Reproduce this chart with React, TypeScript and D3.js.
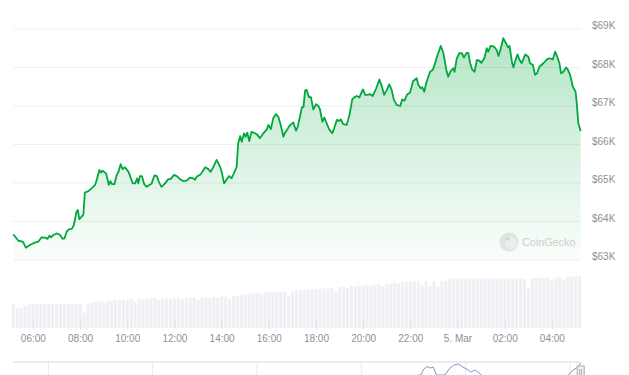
import React from "react";
import * as d3 from "d3";

// 24h BTC price (minutes after 4 Mar 05:09 UTC)
const startTime = Date.UTC(2024, 2, 4, 5, 9);

const priceMinutes = [
  0, 13, 24, 32, 42, 55, 64, 72, 81, 87,
  92, 96, 102, 112, 119, 125, 130, 136, 142, 149,
  154, 161, 164, 168, 174, 178, 182, 191, 199, 208,
  212, 219, 223, 227, 236, 243, 247, 251, 257, 263,
  267, 273, 278, 284, 293, 299, 304, 310, 315, 318,
  322, 327, 333, 339, 346, 352, 359, 365, 371, 377,
  386, 394, 400, 409, 416, 424, 432, 441, 449, 458,
  462, 466, 477, 488, 496, 502, 509, 517, 526, 530,
  536, 543, 549, 555, 561, 568, 572, 577, 581, 587,
  591, 595, 600, 606, 615, 621, 627, 636, 645, 649,
  655, 661, 668, 674, 680, 687, 691, 695, 702, 707,
  712, 719, 723, 729, 734, 738, 742, 746, 752, 757,
  763, 770, 776, 780, 786, 791, 797, 803, 811, 816,
  823, 828, 833, 839, 848, 855, 862, 869, 874, 880,
  889, 895, 901, 907, 914, 923, 931, 937, 943, 950,
  956, 962, 968, 975, 984, 989, 995, 1001, 1009, 1017,
  1026, 1030, 1036, 1040, 1045, 1051, 1060, 1067, 1073, 1078,
  1087, 1094, 1101, 1106, 1113, 1119, 1122, 1128, 1134, 1141,
  1146, 1153, 1157, 1162, 1167, 1173, 1179, 1185, 1190, 1198,
  1204, 1208, 1214, 1223, 1230, 1234, 1240, 1246, 1253, 1258,
  1262, 1268, 1272, 1276, 1282, 1287, 1293, 1302, 1310, 1314,
  1321, 1327, 1332, 1338, 1348, 1357, 1363, 1372, 1378, 1382,
  1389, 1393, 1399, 1406, 1410, 1416, 1423, 1430, 1433, 1437,
  1443,
];

const prices = [
  63670, 63500, 63480, 63320, 63390, 63450, 63480, 63590, 63580, 63550,
  63630, 63590, 63650, 63690, 63650, 63550, 63560, 63740, 63800, 63810,
  63910, 64260, 64300, 64060, 64130, 64170, 64750, 64790, 64860, 64950,
  65080, 65340, 65270, 65320, 65250, 64950, 65050, 64970, 64970, 65210,
  65280, 65490, 65360, 65410, 65290, 65120, 64990, 64990, 65120, 64990,
  65180, 65180, 64970, 64900, 64950, 64990, 65200, 65180, 65010, 64900,
  64990, 65100, 65100, 65210, 65180, 65100, 65050, 65060, 65140, 65120,
  65080, 65160, 65230, 65410, 65360, 65290, 65420, 65600, 65420, 65290,
  64990, 65100, 65180, 65120, 65250, 65420, 66030, 66220, 66070, 66290,
  66200, 66310, 66090, 66330, 66290, 66250, 66160, 66290, 66400, 66510,
  66400, 66680, 66790, 66720, 66510, 66200, 66310, 66360, 66480, 66530,
  66570, 66360, 66450, 66720, 66970, 66970, 67400, 67420, 67230, 67230,
  66910, 67050, 67000, 66910, 66590, 66700, 66550, 66400, 66290, 66420,
  66640, 66610, 66650, 66530, 66510, 66770, 67170, 67240, 67260, 67220,
  67430, 67290, 67290, 67310, 67260, 67460, 67690, 67520, 67290, 67420,
  67560, 67430, 67160, 67030, 67000, 67170, 67140, 67290, 67350, 67650,
  67720, 67550, 67460, 67490, 67370, 67630, 67890, 67940, 68120, 68300,
  68560, 68370, 67950, 67760, 67920, 67980, 67890, 68240, 68370, 68370,
  68260, 68380, 68380, 68110, 67950, 67890, 68200, 68180, 68120, 68240,
  68500, 68410, 68560, 68540, 68440, 68300, 68500, 68760, 68630, 68520,
  68560, 68150, 68000, 68150, 68340, 68210, 68110, 68340, 68280, 68110,
  68070, 67810, 67850, 68020, 68110, 68210, 68240, 68210, 68410, 68320,
  68110, 67850, 67890, 68000, 67950, 67810, 67500, 67370, 67070, 66550,
  66350,
];

// total volume ($B), one bar every 10 minutes
const volumeStep = 10;
const volumes = [
  37.8, 32, 31.5, 36, 37.5, 38, 37, 38, 37.5, 38,
  38.3, 37.8, 38, 38.2, 37.6, 38, 37.5, 38.3, 24, 36,
  40, 41.5, 42, 40, 43, 42.5, 44, 43.5, 45, 44,
  45.5, 41, 46, 45, 46.5, 46, 47, 44, 46.5, 47.5,
  46, 47, 48, 46, 47.5, 48, 47, 44.5, 48, 48.5,
  47.5, 49, 48, 50, 49, 46, 50, 51, 52, 54,
  53, 55, 55.5, 54, 56, 56.5, 57, 56.5, 57, 57.5,
  51, 57, 59, 60, 59.5, 61, 60.5, 62, 61.5, 63,
  62, 64, 58, 64.5, 65, 63, 66, 65.5, 67, 66.5,
  68, 67, 68.5, 69, 66, 70, 69.5, 71, 70, 72,
  73, 72.5, 74, 73.5, 67, 74, 66, 73, 65, 74,
  75, 78, 77.5, 78, 78.5, 77, 78, 78.5, 78, 77.5,
  78, 78.5, 78, 77.5, 78, 78, 77.5, 78, 78.5, 78,
  77, 62, 78, 79, 79, 78.5, 79.5, 74, 79, 80,
  76, 81, 80.5, 81.5, 82,
];

const priceRange = [63000, 69000];
const volumeRange = [0, 85];

// navigator (longer history, only its tops show)
const navDayRange = [-0.336, 5.103];
const navDays = [
  -0.34, 0.5, 1.2, 2.0, 2.8, 3.3, 3.57, 3.6, 3.63, 3.66,
  3.69, 3.72, 3.8, 3.85, 3.89, 3.93, 3.97, 4.01, 4.05, 4.09,
  4.13, 4.17, 4.4, 4.7, 4.97, 5.02, 5.06, 5.09, 5.103,
];
const navPrices = [
  60500, 61200, 60800, 61500, 62000, 62800, 63850, 66230, 67220, 66620,
  67020, 63850, 63850, 66620, 67810, 68210, 67020, 66230, 65040, 65830,
  64640, 63060, 62500, 62800, 63060, 65440, 66620, 67810, 68600,
];

const W = 629;
const H = 375;
const left = 13.3;
const right = 580.7;
const font = "'Liberation Sans', Arial, Helvetica, sans-serif";
const labelColor = "#8b9099";

export default function App() {
  const times = priceMinutes.map((m) => new Date(startTime + m * 60000));
  const data = times.map((t, i) => ({ t, v: prices[i] }));

  const x = d3.scaleUtc().domain(d3.extent(times) as [Date, Date]).range([left, right]);
  const y = d3.scaleLinear().domain(priceRange).range([260, 29]);
  const yVol = d3.scaleLinear().domain(volumeRange).range([328, 274]);
  const xNav = d3.scaleLinear().domain(navDayRange).range([left, right]);
  const yNav = d3.scaleLinear().domain([50000, 69000]).range([410, 362]);

  const line = d3.line<{ t: Date; v: number }>().x((d) => x(d.t)).y((d) => y(d.v));
  const area = d3
    .area<{ t: Date; v: number }>()
    .x((d) => x(d.t))
    .y0(y(priceRange[0]))
    .y1((d) => y(d.v));

  const navLine = d3.line<number>().x((d) => xNav(d)).y((d, i) => yNav(navPrices[i]));

  const xTicks = d3.utcHour.every(2)!.range(x.domain()[0], x.domain()[1]);
  const fmtTick = (d: Date) =>
    d.getUTCHours() === 0 ? d3.utcFormat("%-d. %b")(d) : d3.utcFormat("%H:%M")(d);
  const yTicks = y.ticks(6);

  const barW = 3.1;
  const navTicks = d3.range(0, Math.floor(navDayRange[1]) + 1);
  const handleX = xNav(navDayRange[1]);

  return (
    <svg width={W} height={H} style={{ position: "absolute", left: 0, top: 0, background: "#fff" }}>
      <defs>
        <linearGradient id="fillGrad" gradientUnits="userSpaceOnUse" x1="0" y1={y(priceRange[1])} x2="0" y2={y(priceRange[0])}>
          <stop offset="0" stopColor="#00a83e" stopOpacity="0.3" />
          <stop offset="1" stopColor="#00a83e" stopOpacity="0.02" />
        </linearGradient>
      </defs>

      {/* grid */}
      {yTicks.map((v) => (
        <line key={v} x1={left} x2={right} y1={y(v)} y2={y(v)} stroke="#efefef" />
      ))}

      {/* volume bars */}
      {volumes.map((v, i) => {
        const cx = x(new Date(startTime + i * volumeStep * 60000));
        return <rect key={i} x={cx - barW / 2} y={yVol(v)} width={barW} height={yVol(0) - yVol(v)} fill="#eef0f4" />;
      })}

      {/* x ticks + labels */}
      {xTicks.map((t) => (
        <g key={+t}>
          <line x1={x(t)} x2={x(t)} y1={320} y2={329} stroke="#e0e2e7" />
          <text x={x(t)} y={342} textAnchor="middle" fontFamily={font} fontSize={10} fill={labelColor}>
            {fmtTick(t)}
          </text>
        </g>
      ))}

      {/* watermark */}
      <g>
        <circle cx={509} cy={242} r={9.5} fill="#e8e8e8" />
        <circle cx={511} cy={243} r={6} fill="#f3f3f3" />
        <circle cx={508} cy={239} r={1.6} fill="#d6d6d6" />
        <text x={522} y={246} fontFamily={font} fontSize={10.8} fill="#d2d2d2">
          CoinGecko
        </text>
      </g>

      {/* price */}
      <path d={area(data) || ""} fill="url(#fillGrad)" />
      <path d={line(data) || ""} fill="none" stroke="#00a83e" strokeWidth={1.8} strokeLinejoin="round" />

      {/* y labels */}
      {yTicks.map((v) => (
        <text key={v} x={592} y={y(v)} fontFamily={font} fontSize={10} fill={labelColor}>
          {"$" + v / 1000 + "K"}
        </text>
      ))}

      {/* navigator */}
      <line x1={left} x2={right} y1={362} y2={362} stroke="#e2e4ea" strokeWidth={1.5} />
      {navTicks.map((d) => (
        <line key={d} x1={xNav(d)} x2={xNav(d)} y1={362} y2={H} stroke="#e8e8e8" />
      ))}
      <path d={navLine(navDays) || ""} fill="none" stroke="#7f96c8" strokeWidth={1} />
      <g>
        <rect x={handleX - 3.5} y={366} width={7} height={14} fill="#f2f2f2" stroke="#aaa" />
        <line x1={handleX - 1} x2={handleX - 1} y1={369} y2={377} stroke="#aaa" />
        <line x1={handleX + 1} x2={handleX + 1} y1={369} y2={377} stroke="#aaa" />
      </g>
    </svg>
  );
}
